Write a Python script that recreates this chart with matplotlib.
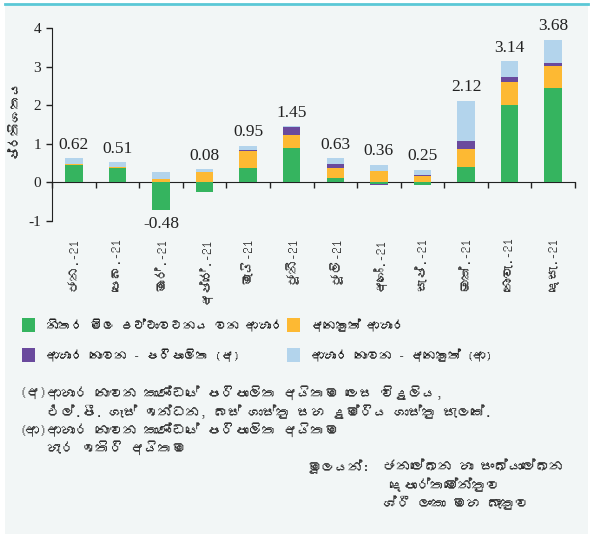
import matplotlib
matplotlib.use("Agg")
import matplotlib.pyplot as plt
from matplotlib import font_manager
from matplotlib.ft2font import FT2Font
from matplotlib.patches import Rectangle
import numpy as np

# ---- data ----
# (no text shaping in matplotlib, so the zero-width joiners are left out)
months = ["ජන.-21", "පෙබ.-21", "මාර්.-21", "අප්රේ.-21", "මැයි-21", "ජූනි-21",
          "ජූලි-21", "අගෝ.-21", "සැප්.-21", "ඔක්.-21", "නොවැ.-21", "දෙසැ.-21"]
volatile_food = [0.45, 0.37, -0.72, -0.24, 0.37, 0.88, 0.12, -0.05, -0.08, 0.40, 2.00, 2.44]
other_food = [0.03, 0.03, 0.08, 0.26, 0.44, 0.36, 0.26, 0.30, 0.16, 0.47, 0.61, 0.58]
nonfood_admin = [0.0, 0.0, 0.0, 0.0, 0.03, 0.19, 0.10, -0.03, 0.03, 0.21, 0.11, 0.07]
nonfood_other = [0.14, 0.12, 0.18, 0.08, 0.11, 0.02, 0.14, 0.15, 0.14, 1.04, 0.42, 0.61]
totals = [0.62, 0.51, -0.48, 0.08, 0.95, 1.45, 0.63, 0.36, 0.25, 2.12, 3.14, 3.68]

series_names = ["නිතර මිල උච්චාවචනය වන ආහාර", "අනෙකුත් ආහාර",
                "ආහාර නොවන - පරිපාලිත (අ)", "ආහාර නොවන - අනෙකුත් (ආ)"]
colors = ["#35b45f", "#fdb933", "#6a4a9d", "#b3d4ec"]
ylabel = "ප්රතිශතය"

notes = ["(අ)", "ආහාර නොවන කාණ්ඩයේ පරිපාලිත අයිතම ලෙස විදුලිය,",
         "එල්.පී. ගෑස් ඉන්ධන, බස් ගාස්තු සහ දුම්රිය ගාස්තු සැලකේ.",
         "(ආ)", "ආහාර නොවන කාණ්ඩයේ පරිපාලිත අයිතම",
         "හැර ඉතිරි අයිතම"]
source = ["මූලයන්:", "ජනලේඛන හා සංඛ්යාලේඛන", "දෙපාර්තමේන්තුව", "ශ්රී ලංකා මහ බැංකුව"]

# look for any installed family that carries Sinhala glyphs
families = []
for f in font_manager.fontManager.ttflist:
    try:
        if 0x0DC3 in FT2Font(f.fname).get_charmap() and f.name not in families:
            families.append(f.name)
    except Exception:
        pass
families = families + ["DejaVu Sans"]
plt.rcParams["font.family"] = families

bg = "#f2f6f6"
W, H = 593, 539

def fx(px):
    return px / W

def fy(py):
    return 1 - py / H

fig = plt.figure(figsize=(W / 100, H / 100), dpi=100, facecolor="white")
fig.patches.append(Rectangle((fx(5), fy(534)), fx(583), 528 / H,
                             transform=fig.transFigure, facecolor=bg, edgecolor="none", zorder=-10))
fig.add_artist(plt.Line2D([fx(5), fx(588)], [fy(4), fy(4)], color="#5bc8d6", lw=2,
                          transform=fig.transFigure))

ax = fig.add_axes([fx(52), fy(221), fx(575) - fx(52), fy(28) - fy(221)])
ax.patch.set_alpha(0)

x = np.arange(len(months))
pos_base = np.zeros(len(months))
neg_base = np.zeros(len(months))
for vals, col in zip([volatile_food, other_food, nonfood_admin, nonfood_other], colors):
    v = np.array(vals)
    base = np.where(v >= 0, pos_base, neg_base)
    ax.bar(x, v, 0.4, bottom=base, color=col, edgecolor="none", zorder=2)
    pos_base = pos_base + np.where(v > 0, v, 0)
    neg_base = neg_base + np.where(v < 0, v, 0)

for i, t in enumerate(totals):
    if t >= 0:
        ax.annotate(f"{t:.2f}", (x[i], pos_base[i]), xytext=(0, 4), textcoords="offset points",
                    ha="center", va="bottom", fontsize=12.5, family="Liberation Serif", color="#222222")
    else:
        ax.annotate(f"{t:.2f}", (x[i], neg_base[i]), xytext=(0, -4), textcoords="offset points",
                    ha="center", va="top", fontsize=12.5, family="Liberation Serif", color="#222222")

ax.set_xlim(-0.5, len(months) - 0.5)
ax.set_ylim(-1, 4)
ax.set_yticks([-1, 0, 1, 2, 3, 4])
ax.set_yticklabels(["-1", "0", "1", "2", "3", "4"], family="Liberation Serif", fontsize=11)
ax.tick_params(axis="y", direction="out", length=4, width=1, pad=4, colors="#222222")
for s in ["top", "right", "bottom"]:
    ax.spines[s].set_visible(False)
ax.spines["left"].set_color("#222222")

ax.set_xticks(x)
ax.set_xticklabels(months, rotation=90, fontsize=9.5, color="#333333")
ax.tick_params(axis="x", length=0, pad=12)

# x axis line sits at y = 0
sec = ax.secondary_xaxis(0.2)
sec.set_xticks(np.arange(-0.5, len(months), 1.0))
sec.set_xticklabels([])
sec.tick_params(direction="out", length=4, width=1, colors="#222222")
sec.spines["bottom"].set_color("#222222")

fig.text(fx(14), fy(118), ylabel, rotation=90, ha="center", va="center", fontsize=9.5, color="#222222")

# legend
leg_pos = [(22, 325), (287, 325), (22, 355), (287, 355)]
for (px, py), name, col in zip(leg_pos, series_names, colors):
    fig.patches.append(Rectangle((fx(px), fy(py + 7)), fx(13), 14 / H,
                                 transform=fig.transFigure, facecolor=col, edgecolor="none"))
    fig.text(fx(px + 24), fy(py), name, ha="left", va="center", fontsize=9, color="#222222")

# notes
note_kw = dict(ha="left", va="center", fontsize=10, color="#333333")
fig.text(fx(19), fy(393), notes[0], **note_kw)
fig.text(fx(47), fy(393), notes[1], **note_kw)
fig.text(fx(47), fy(412), notes[2], **note_kw)
fig.text(fx(19), fy(430), notes[3], **note_kw)
fig.text(fx(47), fy(430), notes[4], **note_kw)
fig.text(fx(47), fy(448), notes[5], **note_kw)

fig.text(fx(307), fy(467), source[0], **note_kw)
fig.text(fx(383), fy(467), source[1], **note_kw)
fig.text(fx(389), fy(485), source[2], **note_kw)
fig.text(fx(383), fy(503), source[3], **note_kw)

fig.savefig("out.png", dpi=100, facecolor="white")
